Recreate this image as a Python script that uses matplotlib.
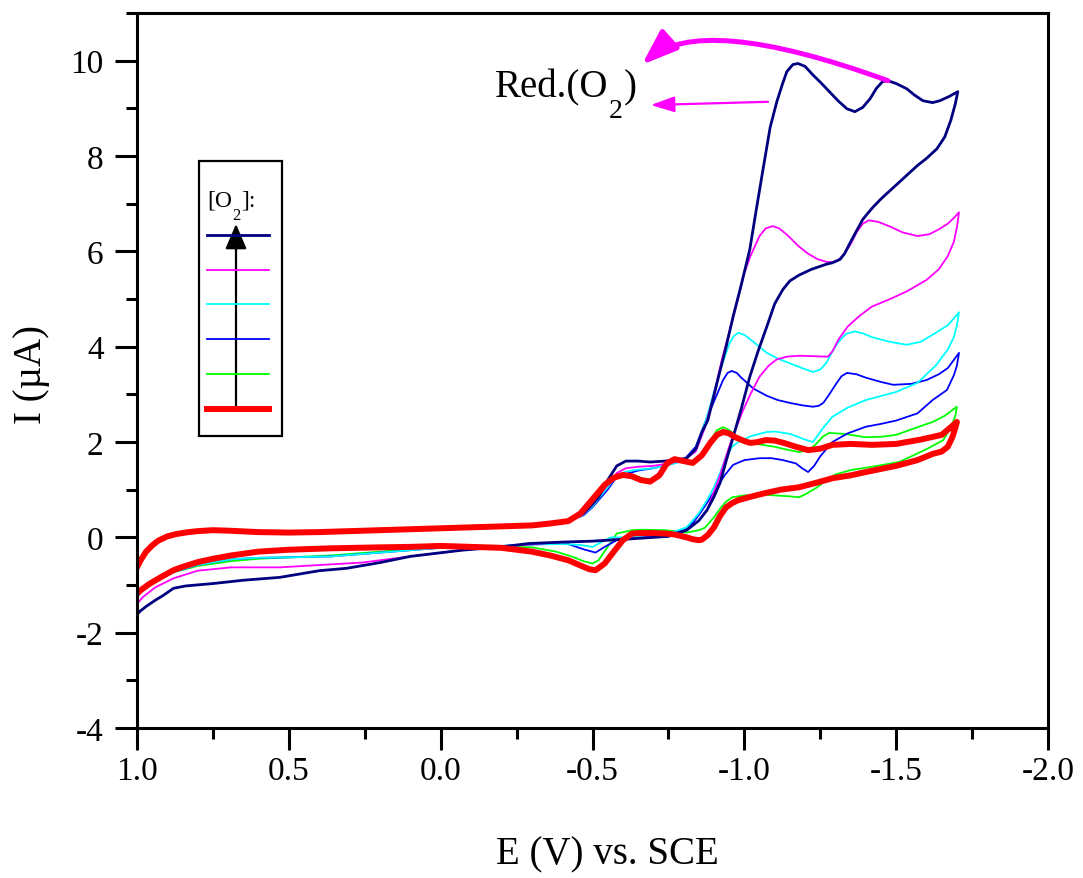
import numpy as np
import matplotlib
matplotlib.use("Agg")
import matplotlib.pyplot as plt
from matplotlib.patches import Rectangle, FancyArrowPatch
from matplotlib.lines import Line2D

plt.rcParams['font.family'] = ['Liberation Serif', 'DejaVu Serif']
plt.rcParams['mathtext.fontset'] = 'stix'
plt.rcParams['axes.unicode_minus'] = False

# ---------------- data (E in V vs SCE, I in uA) ----------------
# shared forward (cathodic) scan baseline from +1.0 V to -0.42 V
base_fwd_E = [1.0, 0.99, 0.98, 0.97, 0.95, 0.93, 0.90, 0.87, 0.83, 0.80, 0.75, 0.70, 0.60,
              0.50, 0.40, 0.30, 0.20, 0.10, 0.0, -0.10, -0.20, -0.30, -0.36, -0.42]
base_fwd_I = [-0.63, -0.50, -0.40, -0.30, -0.17, -0.07, 0.02, 0.07, 0.11, 0.13, 0.15, 0.14, 0.11,
              0.10, 0.11, 0.13, 0.15, 0.17, 0.19, 0.21, 0.23, 0.25, 0.29, 0.34]

red_E = base_fwd_E + [-0.46, -0.50, -0.54, -0.57, -0.60, -0.63, -0.66, -0.69, -0.72, -0.745,
                      -0.77, -0.80, -0.83, -0.86, -0.89, -0.91, -0.93, -0.95, -0.97, -1.00, -1.02,
                      -1.045, -1.07, -1.10, -1.13, -1.17, -1.21, -1.25, -1.29, -1.35, -1.42, -1.50,
                      -1.58, -1.65, -1.70,
                      -1.695, -1.685, -1.67, -1.65, -1.62, -1.57, -1.50, -1.40, -1.35, -1.29, -1.24,
                      -1.18, -1.12, -1.07, -1.02, -0.98, -0.96, -0.94, -0.92, -0.90, -0.88, -0.86,
                      -0.85, -0.83, -0.81, -0.77, -0.74, -0.70, -0.66, -0.63, -0.60, -0.57, -0.54,
                      -0.51, -0.49, -0.46, -0.42, -0.36, -0.30, -0.20, -0.10, 0.0, 0.10, 0.20, 0.36,
                      0.50, 0.60, 0.69, 0.75, 0.80, 0.85, 0.88, 0.92, 0.96, 0.99, 1.0]
red_I = base_fwd_I + [0.50, 0.80, 1.10, 1.25, 1.31, 1.28, 1.20, 1.17, 1.30, 1.55,
                      1.64, 1.60, 1.56, 1.72, 2.00, 2.15, 2.21, 2.18, 2.10, 2.02, 1.98,
                      2.00, 2.04, 2.03, 1.98, 1.90, 1.83, 1.86, 1.94, 1.96, 1.94, 1.96,
                      2.05, 2.15, 2.42,
                      2.30, 2.10, 1.90, 1.80, 1.75, 1.62, 1.50, 1.37, 1.30, 1.24, 1.15,
                      1.05, 1.00, 0.93, 0.85, 0.78, 0.72, 0.63, 0.45, 0.21, 0.05, -0.05,
                      -0.06, -0.04, 0.00, 0.06, 0.08, 0.09, 0.09, 0.08, -0.06, -0.30, -0.55,
                      -0.69, -0.67, -0.59, -0.48, -0.38, -0.30, -0.22, -0.20, -0.18, -0.20, -0.21, -0.23,
                      -0.26, -0.30, -0.38, -0.45, -0.52, -0.62, -0.69, -0.83, -0.98, -1.12, -1.18]

green_E = base_fwd_E + [-0.46, -0.50, -0.54, -0.57, -0.60, -0.63, -0.66, -0.69, -0.72, -0.745,
                        -0.77, -0.80, -0.83, -0.86, -0.89, -0.91, -0.93, -0.95, -0.97, -1.00,
                        -1.02, -1.06, -1.10, -1.14, -1.18, -1.21, -1.235, -1.26, -1.28, -1.33,
                        -1.40, -1.45, -1.50, -1.57, -1.62, -1.66, -1.70,
                        -1.695, -1.68, -1.655, -1.60, -1.51, -1.42, -1.35, -1.30, -1.27, -1.24,
                        -1.20, -1.18, -1.15, -1.10, -1.05, -1.00, -0.96, -0.94, -0.92, -0.90,
                        -0.87, -0.85, -0.81, -0.74, -0.66, -0.63, -0.58, -0.55, -0.52, -0.50,
                        -0.47, -0.44, -0.38, -0.30, -0.20, -0.10, 0.0, 0.10, 0.20, 0.36, 0.50,
                        0.60, 0.69, 0.80, 0.88, 0.94, 0.98, 1.0]
green_I = base_fwd_I + [0.50, 0.80, 1.10, 1.27, 1.34, 1.32, 1.24, 1.21, 1.33, 1.55,
                        1.63, 1.60, 1.58, 1.75, 2.05, 2.25, 2.31, 2.25, 2.15, 2.02,
                        1.98, 1.94, 1.90, 1.84, 1.79, 1.82, 1.95, 2.12, 2.19, 2.17,
                        2.10, 2.11, 2.15, 2.31, 2.42, 2.55, 2.74,
                        2.55, 2.30, 2.04, 1.85, 1.58, 1.48, 1.41, 1.32, 1.20, 1.05,
                        0.90, 0.84, 0.86, 0.88, 0.90, 0.88, 0.84, 0.75, 0.60, 0.42,
                        0.20, 0.15, 0.10, 0.15, 0.16, 0.15, 0.08, -0.20, -0.48, -0.55,
                        -0.50, -0.42, -0.30, -0.21, -0.19, -0.20, -0.21, -0.25, -0.30, -0.38, -0.42,
                        -0.45, -0.50, -0.60, -0.73, -0.90, -1.08, -1.22]

blue_E = base_fwd_E + [-0.47, -0.50, -0.55, -0.58, -0.61, -0.65, -0.70, -0.75, -0.80, -0.84,
                       -0.87, -0.90, -0.93, -0.945, -0.958, -0.975, -0.99, -1.03, -1.074, -1.11,
                       -1.15, -1.19, -1.226, -1.245, -1.26, -1.28, -1.30, -1.32, -1.338, -1.37,
                       -1.40, -1.45, -1.49, -1.55, -1.60, -1.64, -1.67, -1.707,
                       -1.70, -1.69, -1.667, -1.62, -1.57, -1.50, -1.45, -1.40, -1.34, -1.29,
                       -1.27, -1.25, -1.23, -1.21, -1.19, -1.17, -1.127, -1.09, -1.05, -1.00,
                       -0.963, -0.935, -0.91, -0.88, -0.854, -0.83, -0.80, -0.70, -0.63, -0.58,
                       -0.54, -0.51, -0.47, -0.415, -0.30, -0.20, -0.10, 0.0, 0.10, 0.20, 0.36,
                       0.50, 0.60, 0.69, 0.80, 0.88, 0.94, 0.98, 1.0]
blue_I = base_fwd_I + [0.46, 0.63, 1.00, 1.27, 1.33, 1.40, 1.45, 1.52, 1.62, 1.90,
                       2.40, 2.85, 3.30, 3.45, 3.49, 3.45, 3.35, 3.12, 2.97, 2.88,
                       2.82, 2.77, 2.74, 2.76, 2.82, 3.00, 3.20, 3.38, 3.45, 3.42,
                       3.35, 3.26, 3.20, 3.22, 3.30, 3.42, 3.55, 3.87,
                       3.60, 3.40, 3.09, 2.88, 2.60, 2.45, 2.38, 2.32, 2.18, 2.00,
                       1.85, 1.70, 1.50, 1.37, 1.45, 1.55, 1.62, 1.66, 1.66, 1.62,
                       1.52, 1.30, 1.05, 0.75, 0.50, 0.30, 0.15, 0.03, 0.00, -0.06,
                       -0.20, -0.32, -0.25, -0.13, -0.15, -0.18, -0.20, -0.22, -0.27, -0.32, -0.40,
                       -0.42, -0.43, -0.46, -0.58, -0.73, -0.92, -1.10, -1.25]

cyan_E = base_fwd_E + [-0.47, -0.50, -0.55, -0.58, -0.61, -0.65, -0.70, -0.75, -0.80, -0.84,
                       -0.86, -0.88, -0.90, -0.92, -0.95, -0.965, -0.98, -1.00, -1.03, -1.074,
                       -1.11, -1.15, -1.19, -1.226, -1.25, -1.27, -1.29, -1.31, -1.335, -1.364,
                       -1.39, -1.42, -1.48, -1.535, -1.58, -1.62, -1.67, -1.707,
                       -1.70, -1.69, -1.67, -1.63, -1.57, -1.50, -1.40, -1.34, -1.29, -1.26,
                       -1.226, -1.20, -1.15, -1.10, -1.074, -1.02, -0.98, -0.96, -0.94, -0.92,
                       -0.90, -0.877, -0.85, -0.81, -0.76, -0.70, -0.63, -0.56, -0.50, -0.46,
                       -0.40, -0.30, -0.20, -0.10, 0.0, 0.10, 0.20, 0.36, 0.50, 0.60, 0.69,
                       0.80, 0.88, 0.94, 0.98, 1.0]
cyan_I = base_fwd_I + [0.47, 0.65, 1.05, 1.30, 1.38, 1.42, 1.45, 1.52, 1.60, 1.85,
                       2.20, 2.60, 3.05, 3.50, 4.05, 4.22, 4.29, 4.25, 4.10, 3.87,
                       3.75, 3.65, 3.55, 3.47, 3.52, 3.66, 3.90, 4.10, 4.27, 4.32,
                       4.28, 4.20, 4.10, 4.04, 4.10, 4.25, 4.45, 4.72,
                       4.45, 4.20, 3.94, 3.60, 3.24, 3.05, 2.88, 2.72, 2.53, 2.30,
                       2.00, 2.05, 2.17, 2.22, 2.21, 2.12, 2.00, 1.90, 1.70, 1.35,
                       1.05, 0.78, 0.50, 0.21, 0.10, 0.05, 0.00, 0.00, -0.20, -0.16,
                       -0.14, -0.15, -0.18, -0.20, -0.22, -0.27, -0.32, -0.40, -0.42, -0.43, -0.46,
                       -0.58, -0.73, -0.92, -1.10, -1.25]

magenta_E = base_fwd_E + [-0.47, -0.50, -0.55, -0.58, -0.61, -0.65, -0.70, -0.75, -0.80, -0.84,
                          -0.87, -0.90, -0.925, -0.95, -0.975, -0.996, -1.02, -1.05, -1.07, -1.094,
                          -1.115, -1.14, -1.18, -1.21, -1.24, -1.27, -1.29, -1.31, -1.33, -1.35,
                          -1.37, -1.39, -1.41, -1.44, -1.48, -1.52, -1.57, -1.61, -1.64, -1.67,
                          -1.69, -1.707,
                          -1.70, -1.69, -1.67, -1.64, -1.60, -1.535, -1.48, -1.42, -1.38, -1.34,
                          -1.31, -1.29, -1.275, -1.23, -1.18, -1.14, -1.106, -1.08, -1.05, -1.02,
                          -0.996, -0.97, -0.95, -0.92, -0.90, -0.877, -0.85, -0.81, -0.75, -0.63,
                          -0.50, -0.40, -0.29, -0.20, -0.07, 0.10, 0.26, 0.45, 0.53, 0.69, 0.80,
                          0.88, 0.94, 0.98, 1.0]
magenta_I = base_fwd_I + [0.48, 0.68, 1.10, 1.35, 1.45, 1.48, 1.50, 1.55, 1.62, 1.80,
                          2.30, 3.00, 3.70, 4.30, 4.90, 5.47, 5.90, 6.32, 6.48, 6.53,
                          6.48, 6.35, 6.10, 5.95, 5.84, 5.78, 5.77, 5.82, 5.95, 6.15,
                          6.40, 6.58, 6.65, 6.62, 6.52, 6.40, 6.32, 6.36, 6.46, 6.58,
                          6.70, 6.82,
                          6.50, 6.20, 5.90, 5.62, 5.40, 5.16, 5.00, 4.84, 4.65, 4.42,
                          4.15, 3.90, 3.79, 3.80, 3.81, 3.79, 3.73, 3.60, 3.37, 3.00,
                          2.67, 2.25, 1.90, 1.30, 0.95, 0.57, 0.35, 0.15, 0.03, -0.02,
                          -0.08, -0.10, -0.15, -0.20, -0.27, -0.40, -0.53, -0.60, -0.63, -0.63, -0.70,
                          -0.86, -1.05, -1.25, -1.39]

navy_E = base_fwd_E + [-0.47, -0.50, -0.52, -0.55, -0.58, -0.61, -0.65, -0.69, -0.74, -0.78,
                       -0.81, -0.84, -0.86, -0.88, -0.91, -0.94, -0.963, -0.99, -1.018, -1.04,
                       -1.061, -1.085, -1.107, -1.125, -1.14, -1.16, -1.177, -1.20, -1.226, -1.25,
                       -1.28, -1.31, -1.338, -1.364, -1.39, -1.414, -1.435, -1.455, -1.473, -1.50,
                       -1.535, -1.56, -1.588, -1.62, -1.644, -1.675, -1.703,
                       -1.695, -1.68, -1.66, -1.634, -1.60, -1.57, -1.51, -1.45, -1.42, -1.39,
                       -1.35, -1.33, -1.315, -1.29, -1.27, -1.22, -1.18, -1.15, -1.127, -1.10,
                       -1.074, -1.045, -1.018, -0.99, -0.963, -0.94, -0.92, -0.90, -0.877, -0.85,
                       -0.81, -0.75, -0.63, -0.50, -0.40, -0.29, -0.20, -0.07, 0.10, 0.20, 0.31,
                       0.40, 0.53, 0.65, 0.75, 0.84, 0.88, 0.914, 0.94, 0.97, 0.99, 1.0]
navy_I = base_fwd_I + [0.50, 0.70, 0.84, 1.20, 1.50, 1.60, 1.60, 1.58, 1.60, 1.63,
                       1.66, 1.85, 2.20, 2.46, 3.24, 4.00, 4.63, 5.30, 6.04, 6.90,
                       7.70, 8.60, 9.14, 9.50, 9.77, 9.92, 9.94, 9.88, 9.70, 9.55,
                       9.35, 9.15, 8.99, 8.93, 9.02, 9.20, 9.42, 9.56, 9.58, 9.52,
                       9.41, 9.28, 9.16, 9.12, 9.16, 9.25, 9.35,
                       9.10, 8.75, 8.40, 8.15, 7.95, 7.80, 7.45, 7.10, 6.90, 6.67,
                       6.20, 5.95, 5.83, 5.76, 5.73, 5.62, 5.50, 5.38, 5.20, 4.90,
                       4.42, 3.90, 3.37, 2.70, 2.10, 1.60, 1.14, 0.85, 0.57, 0.35,
                       0.15, 0.02, -0.03, -0.08, -0.10, -0.13, -0.20, -0.27, -0.40, -0.53, -0.65,
                       -0.70, -0.84, -0.90, -0.97, -1.02, -1.07, -1.22, -1.32, -1.45, -1.55, -1.62]

# drawing order (bottom to top) and legend order (top to bottom)
series = {
    'green': (green_E, green_I, '#00FF00', 1.3),
    'blue': (blue_E, blue_I, '#0000FF', 1.3),
    'cyan': (cyan_E, cyan_I, '#00FFFF', 1.3),
    'magenta': (magenta_E, magenta_I, '#FF00FF', 1.3),
    'navy': (navy_E, navy_I, '#000080', 2.0),
    'red': (red_E, red_I, '#FF0000', 4.3),
}
legend_order = ['navy', 'magenta', 'cyan', 'blue', 'green', 'red']

x_ticks = [1.0, 0.5, 0.0, -0.5, -1.0, -1.5, -2.0]
x_ticklabels = ['1.0', '0.5', '0.0', '-0.5', '-1.0', '-1.5', '-2.0']
y_ticks = [-4, -2, 0, 2, 4, 6, 8, 10]

# ---------------- figure ----------------
W, H = 1083, 879
fig = plt.figure(figsize=(W / 100, H / 100), dpi=100)
ax = fig.add_axes([137 / W, 1 - 729 / H, (1048 - 137) / W, (729 - 14) / H])

for name, (E, I, c, lw) in series.items():
    ax.plot(E, I, color=c, lw=lw, solid_joinstyle='round', solid_capstyle='round')

ax.set_xlim(1.0, -2.0)
ax.set_ylim(-4, 11)
ax.set_xticks(x_ticks)
ax.set_xticklabels(x_ticklabels)
ax.set_xticks(np.arange(-1.75, 1.0, 0.5), minor=True)
ax.set_yticks(y_ticks)
ax.set_yticks(np.arange(-3, 12, 2), minor=True)
for s in ax.spines.values():
    s.set_linewidth(2.2)
ax.tick_params(which='major', direction='out', length=16, width=2.2, labelsize=24)
ax.tick_params(axis='x', which='major', pad=4)
ax.tick_params(axis='y', which='major', pad=8)
ax.tick_params(which='minor', direction='out', length=8, width=2.2)

ax.set_xlabel('E (V) vs. SCE', fontsize=28, va='center')
ax.xaxis.set_label_coords((607 - 137) / 911, -(855 - 729) / 715)
ax.set_ylabel('I (µA)', fontsize=28, va='center')
ax.yaxis.set_label_coords((31 - 137) / 911, 1 - (375 - 14) / 715)


def subscript_text(parent_ax, x, y, head, sub, tail, size, sub_size, drop, transform):
    """Write head + lowered subscript + tail, chained one after the other."""
    t1 = parent_ax.annotate(head, xy=(x, y), xycoords=transform, ha='left', va='baseline',
                            fontsize=size, annotation_clip=False)
    t2 = parent_ax.annotate(sub, xy=(1, 0), xycoords=t1, xytext=(0.5, -drop),
                            textcoords='offset points', ha='left', va='baseline',
                            fontsize=sub_size, annotation_clip=False)
    # tail placed on the head's baseline, right after the subscript
    t3 = parent_ax.annotate(tail, xy=(1, 0), xycoords=t2, xytext=(0.5, drop),
                            textcoords='offset points', ha='left', va='baseline',
                            fontsize=size, annotation_clip=False)
    return t1, t2, t3


# annotation: Red.(O2)
E_txt, I_txt = -0.179, 9.24
tA = ax.text(E_txt, I_txt, 'Red.(O', fontsize=28, ha='left', va='baseline')
tB = ax.annotate('2', xy=(1, 0), xycoords=(tA, 'data'), xytext=(0.5, 0),
                 textcoords='offset points', ha='left', va='top', fontsize=20)
tB.xy = (1, I_txt)
tB.set_position((0.5, -1))
tB.set_va('top')
tC = ax.annotate(')', xy=(1, I_txt), xycoords=(tB, 'data'), xytext=(0.5, 0),
                 textcoords='offset points', ha='left', va='baseline', fontsize=28)

ax.annotate('', xy=(-0.692, 9.07), xytext=(-1.078, 9.137),
            arrowprops=dict(arrowstyle='-|>,head_length=0.6,head_width=0.2', color='#FF00FF',
                            lw=1.6, mutation_scale=24, shrinkA=0, shrinkB=0))
navy_arr_E = np.array(navy_E)
navy_arr_I = np.array(navy_I)
fwd = np.arange(len(navy_E)) < len(base_fwd_E) + 47
mask = (navy_arr_E < -1.4) & (navy_arr_E > -1.5) & fwd
k = np.argmax(np.where(mask, navy_arr_I, -99))
ax.annotate('', xy=(-0.663, 9.916), xytext=(navy_arr_E[k], navy_arr_I[k]),
            arrowprops=dict(arrowstyle='-|>,head_length=0.6,head_width=0.22', color='#FF00FF',
                            lw=3.6, mutation_scale=36, shrinkA=0, shrinkB=0,
                            connectionstyle='angle3,angleA=160,angleB=42'))

# custom legend
def P(x, y):
    return (x / W, 1 - y / H)

x0, y0 = P(199, 437)
x1, y1 = P(282, 162)
fig.add_artist(Rectangle((x0, y0), x1 - x0, y1 - y0, transform=fig.transFigure,
                         fill=False, edgecolor='black', lw=1.6))
lA = fig.text(*P(207, 207), '[O', fontsize=17, ha='left', va='baseline')
lB = ax.annotate('2', xy=P(207, 207), xycoords=(lA, 'figure fraction'), xytext=(0.3, -1),
                 textcoords='offset points', ha='left', va='top', fontsize=12,
                 annotation_clip=False)
lB.xy = (1, P(207, 207)[1])
lC = ax.annotate(']:', xy=(1, P(207, 207)[1]), xycoords=(lB, 'figure fraction'),
                 xytext=(0.3, 0), textcoords='offset points', ha='left', va='baseline',
                 fontsize=17, annotation_clip=False)
leg_y = [236, 271, 305, 340, 375, 410]
for name, yy in zip(legend_order, leg_y):
    E, I, c, lw = series[name]
    xa, ya = P(207, yy)
    xb, yb = P(269, yy)
    fig.add_artist(Line2D([xa, xb], [ya, yb], transform=fig.transFigure, color=c, lw=lw))
fig.add_artist(FancyArrowPatch(P(236, 410), P(236, 225), transform=fig.transFigure,
                               arrowstyle='-|>,head_length=0.7,head_width=0.3', mutation_scale=22,
                               color='black', lw=1.6, shrinkA=0, shrinkB=0))

fig.savefig('out.png', dpi=100)
